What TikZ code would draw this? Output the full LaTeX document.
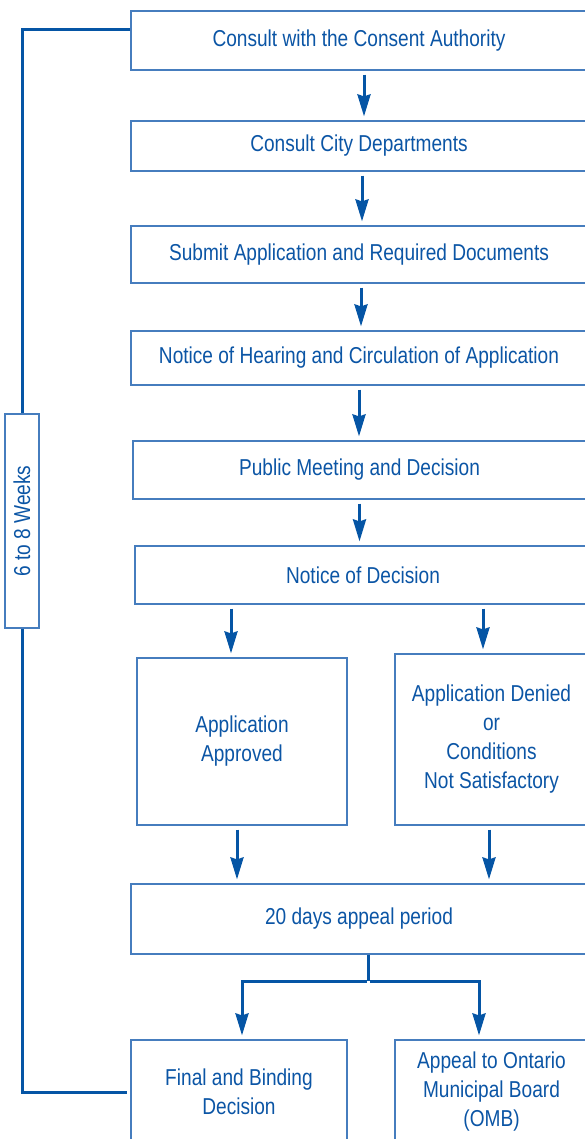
\documentclass[tikz,border=0pt]{standalone}
\usepackage{fontspec}
\setmainfont{Liberation Sans}[FakeStretch=0.83]
\usepackage{tikz}
\usetikzlibrary{arrows.meta}
\definecolor{textblue}{RGB}{11,85,165}
\definecolor{boxblue}{RGB}{70,125,190}
\definecolor{lineblue}{RGB}{5,85,165}

\begin{document}
\begin{tikzpicture}[x=1pt,y=-1pt,
    box/.style={draw=boxblue,line width=1.2pt,text=textblue,align=center,inner sep=0pt,
        font=\fontsize{23}{29}\selectfont},
    link/.style={draw=lineblue,line width=3pt},
    flow/.style={link,-{Stealth[length=22pt,width=13pt,inset=2pt]},shorten <=4pt,shorten >=4pt}]
\useasboundingbox (0,0) rectangle (584,1139);

% draw the steps
\node[box,minimum width=456,minimum height=59] (consult) at (359,40.5) {Consult with the Consent Authority};
\node[box,minimum width=456,minimum height=50] (depts) at (359,146) {Consult City Departments};
\node[box,minimum width=456,minimum height=57] (submit) at (359,254.5) {Submit Application and Required Documents};
\node[box,minimum width=456,minimum height=54] (notice) at (359,358) {Notice of Hearing and Circulation of Application};
\node[box,minimum width=453,minimum height=58] (meeting) at (359.5,470) {Public Meeting and Decision};
\node[box,minimum width=456,minimum height=58] (decision) at (363,575) {Notice of Decision};
\node[box,minimum width=210,minimum height=167] (approved) at (242,741.5) {Application\\Approved};
\node[box,minimum width=193,minimum height=171] (denied) at (491.5,739.5) {Application Denied\\or\\Conditions\\Not Satisfactory};
\node[box,minimum width=456,minimum height=70] (period) at (359,919) {20 days appeal period};
\node[box,minimum width=216,minimum height=104] (final) at (239,1092) {Final and Binding\\Decision};
\node[box,minimum width=193,minimum height=104] (omb) at (491.5,1092) {Appeal to Ontario\\Municipal Board\\(OMB)};

% time span on the left (rotated, so east is the top end)
\node[box,rotate=90,minimum width=214,minimum height=34] (weeks) at (22,521) {6 to 8 Weeks};
\draw[link] ([yshift=10.5pt]consult.west) -| (weeks.east);
\draw[link,shorten >=3pt] (weeks.west) |- (final.west);

% arrows down the middle
\foreach \a/\b/\s in {consult/depts/5,depts/submit/3,submit/notice/2,notice/meeting/0,meeting/decision/0} {
    \draw[flow] ([xshift=\s pt]\a.south) -- ([xshift=\s pt]\a.south |- \b.north);
}

% branches
\draw[flow] ([xshift=-11pt]approved.north |- decision.south) -- ([xshift=-11pt]approved.north);
\draw[flow] ([xshift=-8.5pt]denied.north |- decision.south) -- ([xshift=-8.5pt]denied.north);
\draw[flow] ([xshift=-5pt]approved.south) -- ([xshift=-5pt]approved.south |- period.north);
\draw[flow] ([xshift=-2.5pt]denied.south) -- ([xshift=-2.5pt]denied.south |- period.north);

\coordinate (split) at (368,981);
\draw[link] (period.south -| split) -- (split);
\draw[flow,shorten <=0pt] ([xshift=-1.5pt]split) -| ([xshift=3pt]final.north);
\draw[flow,shorten <=0pt] ([xshift=1.5pt]split) -| ([xshift=-12.5pt]omb.north);

\end{tikzpicture}
\end{document}
